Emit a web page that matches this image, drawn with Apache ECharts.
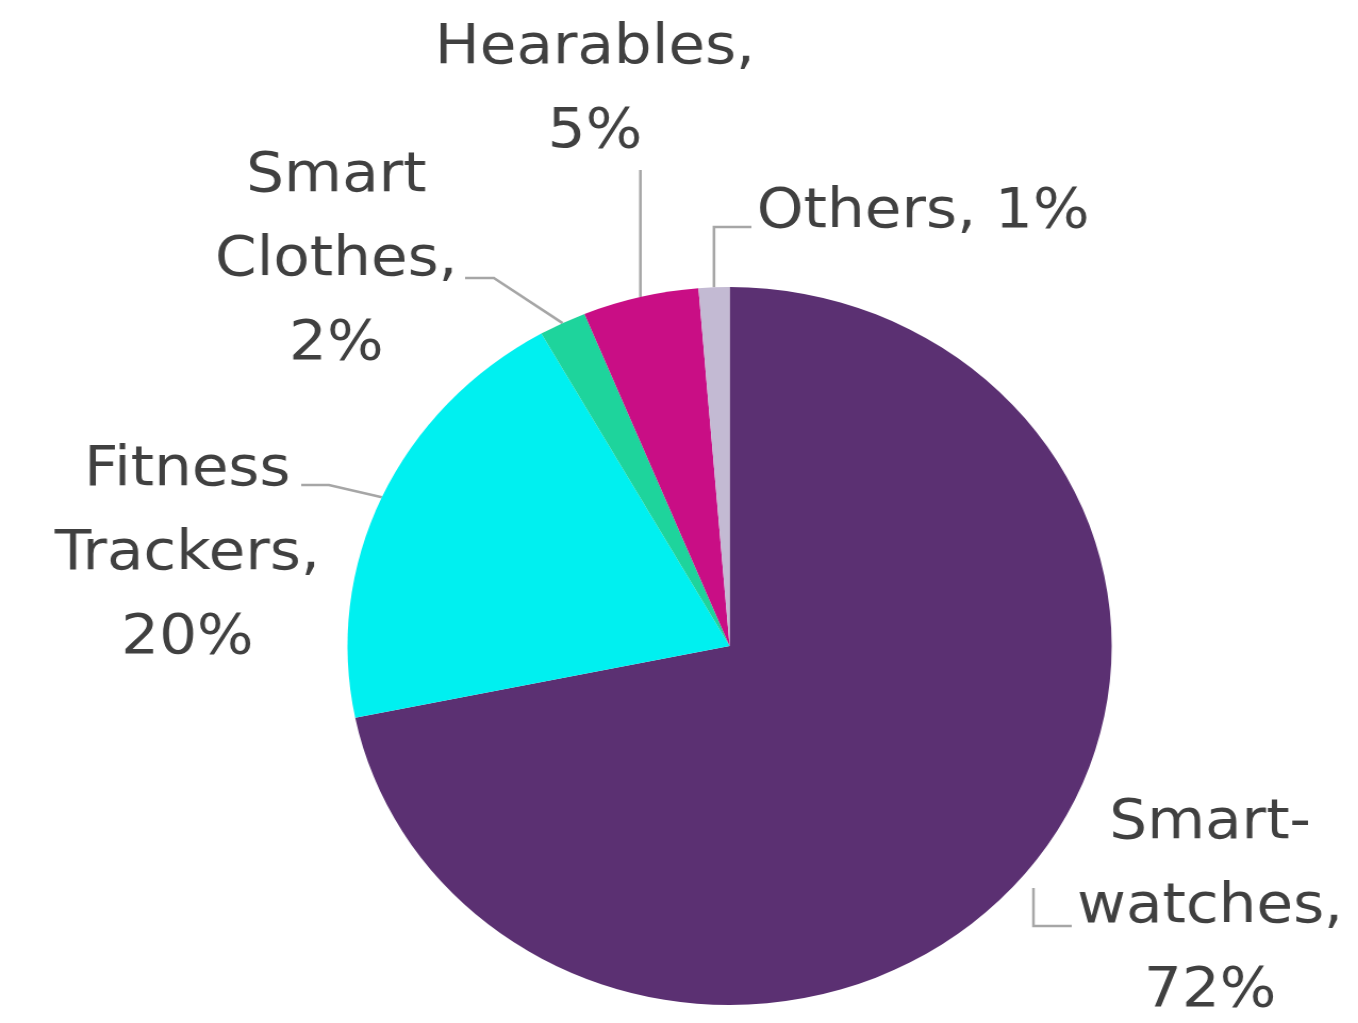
<!DOCTYPE html>
<html>
<head>
<meta charset="utf-8">
<script src="https://cdn.jsdelivr.net/npm/echarts@6/dist/echarts.min.js"></script>
<style>
html,body{margin:0;padding:0;background:#fff;overflow:hidden;}
#wrap{width:1358px;height:1023px;overflow:hidden;}
#chart{width:1276px;height:1023px;transform:scaleX(1.0643);transform-origin:0 0;}
</style>
</head>
<body>
<div id="wrap"><div id="chart"></div></div>
<script>
// Data
const categories = ['Smart-\nwatches', 'Fitness\nTrackers', 'Smart\nClothes', 'Hearables', 'Others'];
const values = [71.8, 20.0, 2.0, 4.9, 1.3];
const percentLabels = ['72%', '20%', '2%', '5%', '1%'];
const labelSeparators = [',\n', ',\n', ',\n', ',\n', ', '];
const colors = ['#5B3072', '#00F0F0', '#1ED49C', '#C90E85', '#C3BAD3'];

// label placement (text block anchor) per slice, in chart space
const labelPos = [
  {x: 1137, y: 907, align: 'center'},
  {x: 176, y: 554, align: 'center'},
  {x: 316, y: 260, align: 'center'},
  {x: 559, y: 90, align: 'center'},
  {x: 711, y: 212, align: 'left'}
];

const chart = echarts.init(document.getElementById('chart'), null, {renderer: 'canvas'});

const data = categories.map((c, i) => ({
  name: c,
  value: values[i],
  itemStyle: {color: colors[i]}
}));

chart.setOption({
  backgroundColor: '#ffffff',
  animation: false,
  series: [{
    type: 'pie',
    center: [685.5, 646],
    radius: [0, 359],
    startAngle: 90,
    clockwise: true,
    avoidLabelOverlap: false,
    data: data,
    itemStyle: {borderWidth: 0},
    label: {
      show: true,
      position: 'outside',
      fontFamily: 'DejaVu Sans',
      fontSize: 56,
      lineHeight: 84,
      color: '#404040',
      formatter: function (p) {
        return p.name + labelSeparators[p.dataIndex] + percentLabels[p.dataIndex];
      }
    },
    labelLine: {
      show: true,
      length: 10,
      length2: 10,
      smooth: false,
      lineStyle: {color: '#A6A6A6', width: 2.5}
    },
    labelLayout: function (params) {
      const i = params.dataIndex;
      const lp = labelPos[i];
      const e = params.labelLinePoints ? params.labelLinePoints[0] : [0, 0];
      let pts;
      if (i === 0) {
        pts = [[971, 888], [971, 926], [1007, 926]];
      } else if (i === 1) {
        pts = [[e[0], e[1]], [309, 485], [283, 485]];
      } else if (i === 2) {
        pts = [[e[0], e[1]], [464, 278], [437, 278]];
      } else if (i === 3) {
        pts = [[e[0], e[1]], [e[0], 170]];
      } else {
        pts = [[e[0], e[1]], [e[0], 227], [706, 227]];
      }
      return {
        x: lp.x,
        y: lp.y,
        align: lp.align,
        verticalAlign: 'middle',
        labelLinePoints: pts
      };
    }
  }]
});
</script>
</body>
</html>
